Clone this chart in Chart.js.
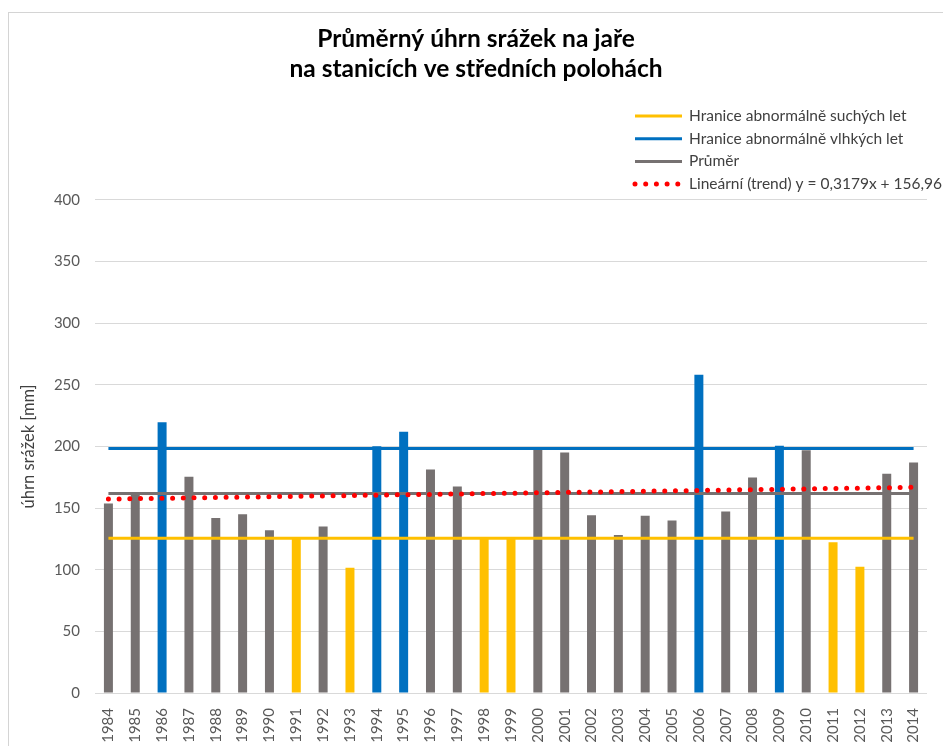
<!DOCTYPE html>
<html lang="cs">
<head>
<meta charset="utf-8">
<title>Průměrný úhrn srážek na jaře</title>
<script src="https://cdn.jsdelivr.net/npm/chart.js@4.4.1/dist/chart.umd.min.js"></script>
<style>
    body { margin: 0; background: #fff; }
    #wrap { position: relative; width: 943px; height: 746px; }
    #frame {
        position: absolute; left: 8px; top: 12px; right: 0; bottom: 0;
        border-left: 1px solid #d4d4d4; border-top: 1px solid #d4d4d4;
    }
    #chart { position: absolute; left: 0; top: 0; }
</style>
</head>
<body>
<div id="wrap">
    <div id="frame"></div>
    <canvas id="chart" width="943" height="746"></canvas>
</div>
<script>
const years = ['1984', '1985', '1986', '1987', '1988', '1989', '1990', '1991', '1992', '1993',
    '1994', '1995', '1996', '1997', '1998', '1999', '2000', '2001', '2002', '2003',
    '2004', '2005', '2006', '2007', '2008', '2009', '2010', '2011', '2012', '2013', '2014'];

// jarní úhrn srážek [mm]
const rainfall = [153.6, 160.5, 219.6, 175.3, 142.0, 145.0, 132.0, 125.0, 135.0, 101.5,
    200.2, 211.9, 181.3, 167.5, 125.0, 125.0, 197.5, 195.0, 144.2, 128.2,
    143.7, 139.9, 258.1, 147.2, 174.8, 200.5, 196.9, 122.2, 102.3, 177.8, 186.9];

const dryLimit = 125.6;
const wetLimit = 198.3;
const average = 161.8;
// lineární trend y = 0,3179x + 156,96 v prvním a posledním roce
const trendStart = 157.28;
const trendEnd = 166.81;

const yTicks = [0, 50, 100, 150, 200, 250, 300, 350, 400];

const GRAY = '#767171';
const BLUE = '#0070C0';
const YELLOW = '#FFC000';
const RED = '#FF0000';
const FONT = 'Lato, "Noto Sans", sans-serif';

function barColor(v) {
    if (v >= wetLimit) return BLUE;
    if (v <= dryLimit) return YELLOW;
    return GRAY;
}

// vodorovná čára: hodnota jen na krajích, mezi nimi spanGaps
function edgeSeries(first, last) {
    return years.map((y, i) => i === 0 ? first : (i === years.length - 1 ? last : null));
}

const legendPlugin = {
    id: 'sideLegend',
    afterDraw(chart) {
        const ctx = chart.ctx;
        const x0 = 635, x1 = 682, tx = 689;
        let y = 116;
        ctx.save();
        chart.data.datasets.forEach(ds => {
            if (ds.type !== 'line') return;
            ctx.beginPath();
            ctx.strokeStyle = ds.borderColor;
            ctx.lineWidth = ds.borderWidth;
            ctx.lineCap = ds.borderCapStyle || 'butt';
            ctx.setLineDash(ds.borderDash || []);
            ctx.moveTo(x0, y);
            ctx.lineTo(x1, y);
            ctx.stroke();
            ctx.setLineDash([]);
            ctx.fillStyle = '#404040';
            ctx.font = '15.5px ' + FONT;
            ctx.textBaseline = 'middle';
            ctx.textAlign = 'left';
            ctx.fillText(ds.label, tx, y);
            y += 22.7;
        });
        ctx.restore();
    }
};

const ctx = document.getElementById('chart').getContext('2d');
new Chart(ctx, {
    data: {
        labels: years,
        datasets: [
            {
                type: 'bar',
                label: 'úhrn srážek',
                data: rainfall,
                backgroundColor: rainfall.map(barColor),
                barPercentage: 0.335,
                categoryPercentage: 1,
                order: 10
            },
            {
                type: 'line',
                label: 'Hranice abnormálně suchých let',
                data: edgeSeries(dryLimit, dryLimit),
                borderColor: YELLOW,
                borderWidth: 3,
                spanGaps: true,
                pointRadius: 0,
                order: 3
            },
            {
                type: 'line',
                label: 'Hranice abnormálně vlhkých let',
                data: edgeSeries(wetLimit, wetLimit),
                borderColor: BLUE,
                borderWidth: 3,
                spanGaps: true,
                pointRadius: 0,
                order: 2
            },
            {
                type: 'line',
                label: 'Průměr',
                data: edgeSeries(average, average),
                borderColor: GRAY,
                borderWidth: 3,
                spanGaps: true,
                pointRadius: 0,
                order: 1
            },
            {
                type: 'line',
                label: 'Lineární (trend) y = 0,3179x + 156,96',
                data: edgeSeries(trendStart, trendEnd),
                borderColor: RED,
                borderWidth: 5,
                borderDash: [0, 10.7],
                borderCapStyle: 'round',
                spanGaps: true,
                pointRadius: 0,
                order: 0
            }
        ]
    },
    options: {
        responsive: false,
        animation: false,
        layout: { padding: { left: 9, right: 0, top: 0, bottom: 0 } },
        plugins: {
            legend: { display: false },
            tooltip: { enabled: false },
            title: {
                display: true,
                text: ['Průměrný úhrn srážek na jaře', 'na stanicích ve středních polohách'],
                color: '#000',
                font: { family: FONT, size: 24.5, weight: 'bold', lineHeight: 1.22 },
                padding: { top: 24, bottom: 116 }
            }
        },
        scales: {
            x: {
                grid: { display: false },
                border: { display: false },
                ticks: {
                    color: '#595959',
                    font: { family: FONT, size: 15 },
                    minRotation: 90,
                    maxRotation: 90,
                    autoSkip: false,
                    padding: 7
                },
                afterFit(scale) { scale.height = 53; }
            },
            y: {
                min: 0,
                max: 400,
                afterBuildTicks(scale) { scale.ticks = yTicks.map(v => ({ value: v })); },
                grid: { color: '#d9d9d9', lineWidth: 1, drawTicks: false },
                border: { display: false },
                ticks: {
                    color: '#595959',
                    font: { family: FONT, size: 15 },
                    padding: 15
                },
                title: {
                    display: true,
                    text: 'úhrn srážek [mm]',
                    color: '#404040',
                    font: { family: FONT, size: 16.5 },
                    padding: { top: 10, bottom: 0 }
                },
                afterFit(scale) { scale.width = 86; }
            },
            // prázdný okraj vpravo od grafu
            yRight: {
                position: 'right',
                min: 0,
                max: 400,
                grid: { display: false },
                border: { display: false },
                ticks: { display: false },
                afterFit(scale) { scale.width = 16; }
            }
        }
    },
    plugins: [legendPlugin]
});
</script>
</body>
</html>
